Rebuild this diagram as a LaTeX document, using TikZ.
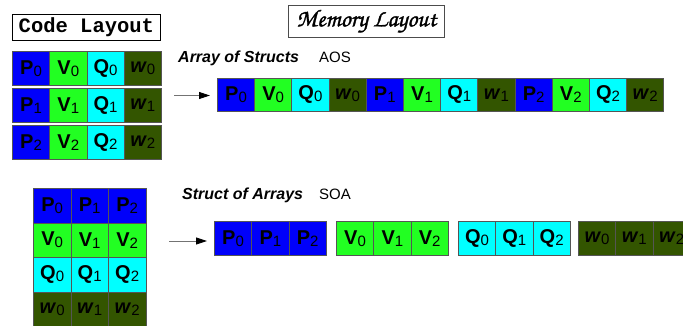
\documentclass[tikz,border=0pt]{standalone}
\usepackage[T1]{fontenc}
\usepackage{fontspec}
\setmainfont{Liberation Sans}
\setmonofont{Liberation Mono}
\usetikzlibrary{arrows.meta}

\definecolor{colP}{RGB}{0,0,250}
\definecolor{colV}{RGB}{34,255,34}
\definecolor{colQ}{RGB}{0,255,255}
\definecolor{colw}{RGB}{51,85,0}
\definecolor{cellline}{RGB}{85,85,85}

\newcommand*\cellwidth{37.25pt}
\newcommand*\cellheight{34pt}
\newcommand*\fldP{\textbf{P}}
\newcommand*\fldV{\textbf{V}}
\newcommand*\fldQ{\textbf{Q}}
\newcommand*\fldw{\textbf{\textit{w}}}
\newcommand*\field[2]{\csname fld#1\endcsname{\fontsize{15}{15}\selectfont\raisebox{-2pt}{#2}}}
% heavier strokes for the chancery title
\newcommand*\heavy[1]{\special{pdf:literal direct 2 Tr 0.3 w}#1\special{pdf:literal direct 0 Tr}}

\tikzset{cell/.style={
    draw=cellline,
    line width=0.8pt,
    anchor=north west,
    inner sep=0pt,
    minimum width=\cellwidth,
    minimum height=\cellheight,
    font=\fontsize{20}{20}\selectfont
}}
\tikzset{heading/.style={
    anchor=base west,
    inner sep=0pt,
    font=\fontsize{16}{16}\selectfont\bfseries\itshape
}}
\tikzset{arrow/.style={
    draw=black!55,
    line width=0.9pt,
    -{Triangle[length=11pt,width=7pt,color=black]},
    shorten >=7pt
}}

\begin{document}
\begin{tikzpicture}[x=1pt,y=-1pt]
    \clip (0,0) rectangle (683,326);

    % Titles of the two sides.
    \node[draw, line width=0.8pt, anchor=north west, minimum width=148pt, minimum height=24pt,
        font=\ttfamily\bfseries\fontsize{20.5}{20.5}\selectfont] (code-title) at (12,14) {Code Layout};
    \node[draw=black!70, line width=0.8pt, anchor=north west, minimum width=156pt, minimum height=32pt,
        font=\fontencoding{T1}\fontfamily{pzc}\fontseries{mb}\fontshape{it}\fontsize{24.5}{24.5}\selectfont]
        (memory-title) at (288,5) {\heavy{Memory Layout}};

    % First the structs as the code sees them, one row each.
    \foreach \r in {0,1,2}
        \foreach \f [count=\i from 0] in {P,V,Q,w}
            \node[cell, fill=col\f] (code-\f\r) at ({12+\i*37.25},{51+\r*37}) {\field{\f}{\r}};

    % Array of structs in memory.
    \node[heading] (aos-title) at (178,63) {Array of Structs};
    \node[anchor=base west, inner sep=0pt, font=\fontsize{15}{15}\selectfont] (aos-abbr) at (319,63) {AOS};
    \foreach \r in {0,1,2}
        \foreach \f [count=\i from 0] in {P,V,Q,w}
            \node[cell, fill=col\f, minimum width=37.2pt, minimum height=33pt]
                (aos-\f\r) at ({217+(4*\r+\i)*37.2},78) {\field{\f}{\r}};
    \coordinate (aos-tail) at (174,95.5);
    \draw[arrow] (aos-tail) -- (aos-tail -| aos-P0.west);

    % Then the arrays as the code sees them, one row per field.
    \foreach \f [count=\j from 0] in {P,V,Q,w}
        \foreach \r in {0,1,2}
            \node[cell, fill=col\f, minimum width=37.5pt, minimum height=34.5pt]
                (soa-code-\f\r) at ({33+\r*37.5},{188+\j*34.5}) {\field{\f}{\r}};

    % Struct of arrays in memory.
    \node[heading] (soa-title) at (182,200) {Struct of Arrays};
    \node[anchor=base west, inner sep=0pt, font=\fontsize{15}{15}\selectfont] (soa-abbr) at (319,200) {SOA};
    \foreach \f/\gx in {P/214,V/336,Q/458,w/578}
        \foreach \r in {0,1,2}
            \node[cell, fill=col\f, minimum width=37.3pt] (soa-\f\r) at ({\gx+\r*37.3},221) {\field{\f}{\r}};
    \coordinate (soa-tail) at (169,241);
    \draw[arrow] (soa-tail) -- (soa-tail -| soa-P0.west);

\end{tikzpicture}
\end{document}
